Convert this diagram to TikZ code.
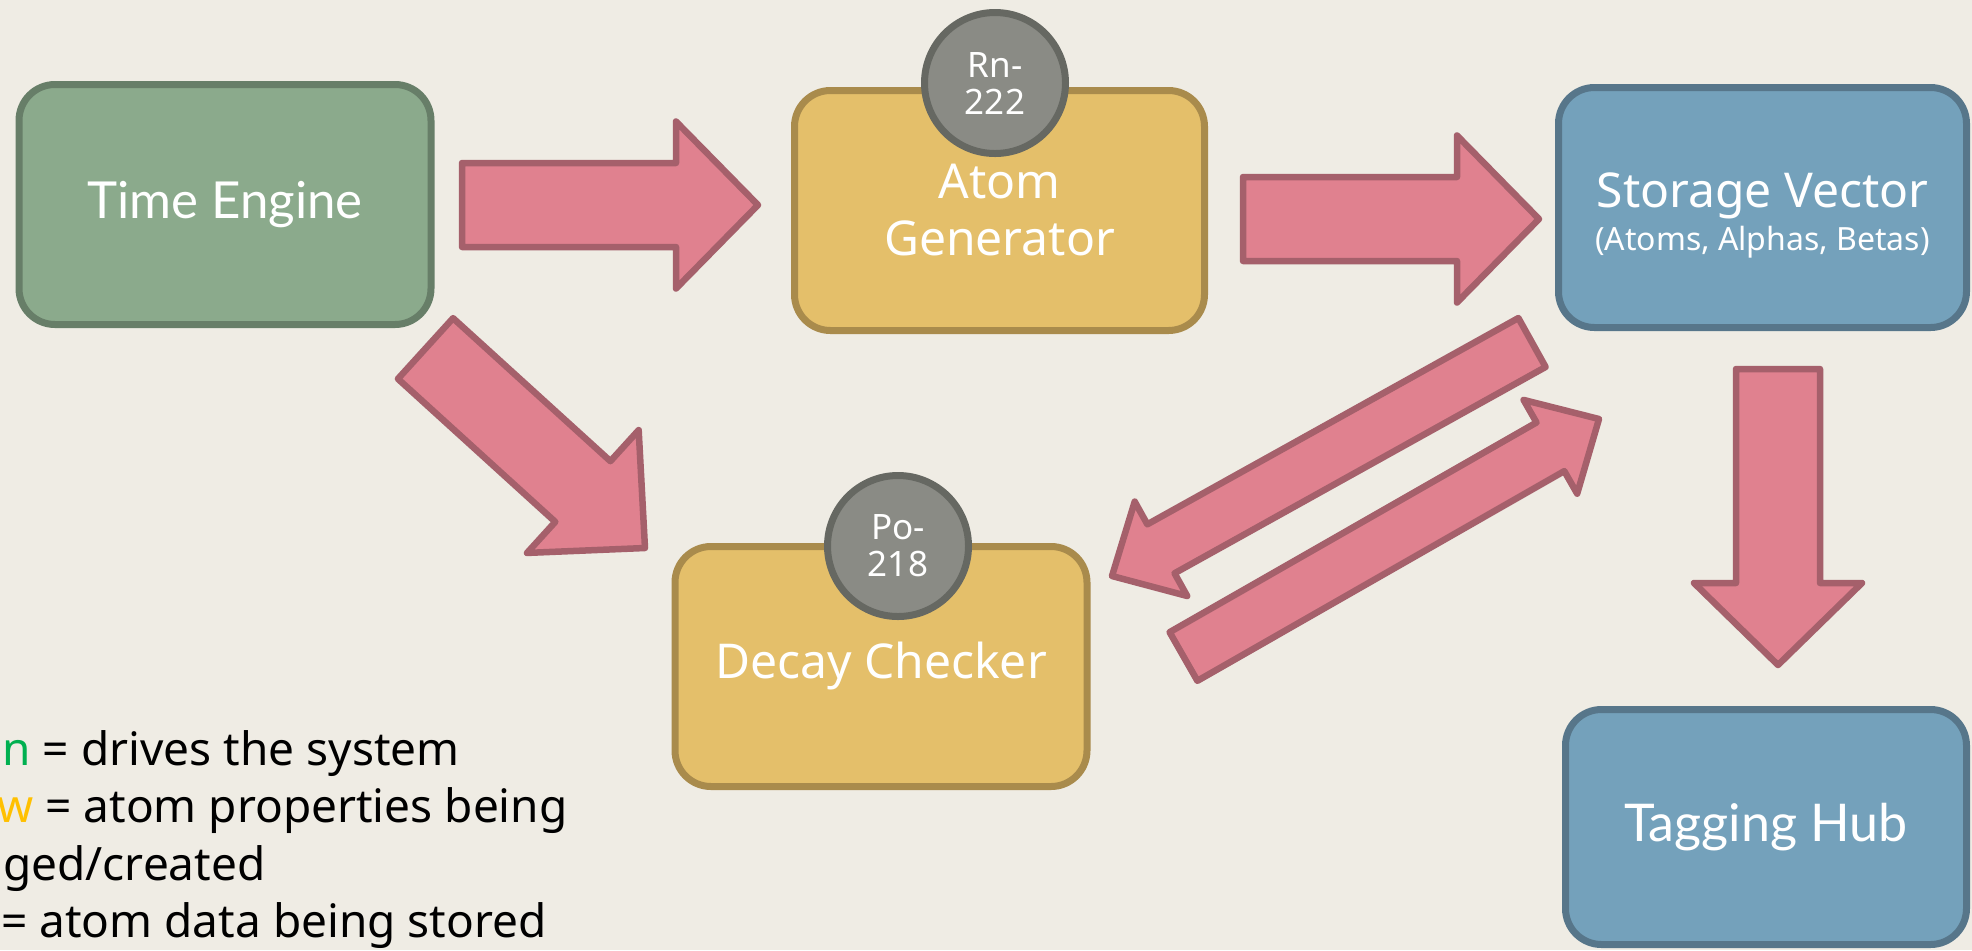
\documentclass[tikz,border=0pt]{standalone}
\usepackage{fontspec}
\setmainfont{Noto Sans}
\newfontfamily\latofont{Lato}
\newfontfamily\keyfont{Noto Sans}
\usetikzlibrary{calc}

\definecolor{bgc}{HTML}{EFECE4}
\definecolor{greenfill}{HTML}{8BAA8C}
\definecolor{greenline}{HTML}{677E68}
\definecolor{yellowfill}{HTML}{E4BF6A}
\definecolor{yellowline}{HTML}{A98B4C}
\definecolor{bluefill}{HTML}{74A1BB}
\definecolor{blueline}{HTML}{57768A}
\definecolor{grayfill}{HTML}{8A8B85}
\definecolor{grayline}{HTML}{666862}
\definecolor{pinkfill}{HTML}{E0818F}
\definecolor{pinkline}{HTML}{A5606B}
\definecolor{lgreen}{HTML}{00B050}
\definecolor{lyellow}{HTML}{FFC000}
\definecolor{lblue}{HTML}{0070C0}

% block arrow: #1 tail centre, #2 tip, #3 half shaft width, #4 half head width, #5 head length
\newcommand\fatarrow[5]{%
  \coordinate (fa-h) at ($(#2)!#5!(#1)$);
  \draw[bigarrow] ($(#1)!#3!90:(#2)$) -- ($(fa-h)!#3!90:(#2)$) -- ($(fa-h)!#4!90:(#2)$)
    -- (#2) -- ($(fa-h)!#4!-90:(#2)$) -- ($(fa-h)!#3!-90:(#2)$) -- ($(#1)!#3!-90:(#2)$) -- cycle;}

\begin{document}
\begin{tikzpicture}[x=0.5pt,y=-0.5pt,
  box/.style={draw, rounded corners=18pt, line width=3.5pt, inner sep=0pt,
    align=center, text=white, minimum width=206pt, minimum height=120pt,
    font=\fontsize{24}{28.5}\selectfont},
  boxtext/.style={inner sep=0pt, align=center, text=white},
  greenbox/.style={box, fill=greenfill, draw=greenline},
  yellowbox/.style={box, fill=yellowfill, draw=yellowline},
  bluebox/.style={box, fill=bluefill, draw=blueline},
  isotope/.style={circle, draw=grayline, fill=grayfill, line width=3.5pt,
    minimum size=70.5pt, inner sep=0pt, align=center, text=white,
    font=\fontsize{17.5}{18.5}\selectfont},
  bigarrow/.style={draw=pinkline, fill=pinkfill, line width=3.25pt, line join=round},
  legend/.style={inner sep=0pt, text=black, font=\keyfont\fontsize{23}{28.5}\selectfont}]

\useasboundingbox (0,0) rectangle (1972,950);
\fill[bgc] (0,0) rectangle (1972,950);

% components
\node[greenbox, font=\latofont\fontsize{25.5}{28.5}\selectfont] (te) at (225,204.5) {Time Engine};
\node[yellowbox, minimum width=205pt] (ag) at (999.5,210.5) {Atom\\Generator};
\node[yellowbox] (dc) at (881,666.5) {Decay Checker};
\node[bluebox, minimum width=204pt] (sv) at (1762.5,207.5) {};
\node[boxtext, font=\fontsize{24}{28.5}\selectfont] (svtext) at ($(sv.center)+(0,8)$)
  {Storage Vector\\[-7pt]{\fontsize{16}{19}\selectfont (Atoms, Alphas, Betas)}};
\node[bluebox, minimum width=200.5pt, minimum height=117.5pt,
  font=\latofont\fontsize{26}{28.5}\selectfont] (th) at (1766,827) {Tagging Hub};

% isotope badges
\node[isotope] (rn) at (995,83) {Rn-\\222};
\node[isotope] (po) at (898,546) {Po-\\218};

% flow arrows
\coordinate (te-ag-tail) at (462,205);  \coordinate (te-ag-tip) at (758,205);
\coordinate (ag-sv-tail) at (1243,219); \coordinate (ag-sv-tip) at (1539,219);
\coordinate (te-dc-tail) at (425.5,348.5); \coordinate (te-dc-tip) at (645,548);
\coordinate (sv-dc-tail) at (1532,342.5); \coordinate (sv-dc-tip) at (1112,576);
\coordinate (dc-sv-tail) at (1183.5,656.5); \coordinate (dc-sv-tip) at (1599,419);
\coordinate (sv-th-tail) at (1778,369); \coordinate (sv-th-tip) at (1778,665);

\fatarrow{te-ag-tail}{te-ag-tip}{21pt}{41.75pt}{41pt}
\fatarrow{ag-sv-tail}{ag-sv-tip}{21pt}{41.75pt}{41pt}
\fatarrow{te-dc-tail}{te-dc-tip}{20.5pt}{41.5pt}{42pt}
\fatarrow{sv-dc-tail}{sv-dc-tip}{14pt}{27pt}{28pt}
\fatarrow{dc-sv-tail}{dc-sv-tip}{14pt}{27pt}{28pt}
\fatarrow{sv-th-tail}{sv-th-tip}{21pt}{42pt}{41pt}

% colour key
\begin{scope}
  \clip (0,0) rectangle (1972,950);
  \node[legend, anchor=base east] (key1) at (460,765) {\textcolor{lgreen}{Green} = drives the system};
  \node[legend, anchor=base east] (key2) at (568,822) {\textcolor{lyellow}{Yellow} = atom properties being};
  \node[legend, anchor=base east] (key3) at (266,880) {changed/created};
  \node[legend, anchor=base east] (key4) at (547,937) {\textcolor{lblue}{Blue} = atom data being stored};
\end{scope}
\end{tikzpicture}
\end{document}
